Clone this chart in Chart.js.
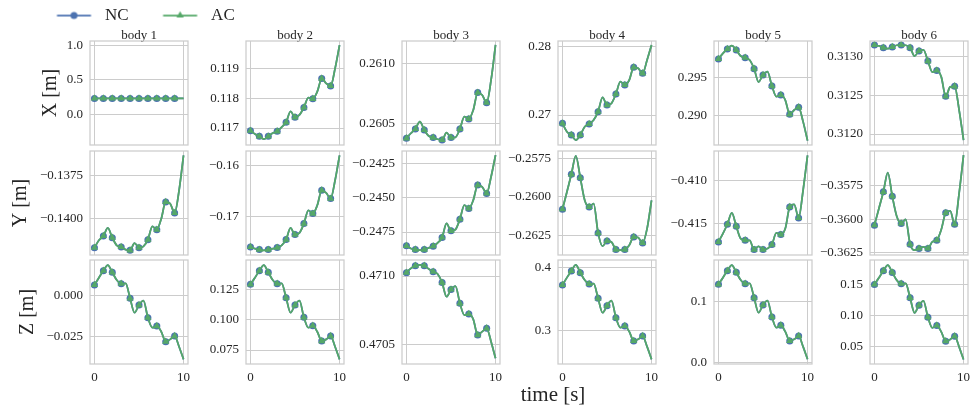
<!DOCTYPE html>
<html>
<head>
<meta charset="utf-8">
<script src="https://cdn.jsdelivr.net/npm/chart.js@4.4.1/dist/chart.umd.min.js"></script>
<style>
  html, body { margin: 0; padding: 0; background: #ffffff; }
  #fig { position: relative; width: 971px; height: 409px; overflow: hidden; }
  #fig canvas { position: absolute; }
</style>
</head>
<body>
<div id="fig"></div>
<script>
// ---- sample times (s) and the instants that carry markers ----
const TIME = [0, 0.5, 1, 1.5, 2, 2.5, 3, 3.5, 4, 4.5, 5, 5.5, 6, 6.5, 7, 7.5, 8, 8.5, 9, 9.5, 10];
const MARK_T = [0, 1, 2, 3, 4, 5, 6, 7, 8, 9];

const BODIES = ['body 1', 'body 2', 'body 3', 'body 4', 'body 5', 'body 6'];
const COORD_NAMES = ['X [m]', 'Y [m]', 'Z [m]'];
const SERIES_NAMES = ['NC', 'AC'];

// ---- X position [m] per body ----
const X_B1 = [0.23, 0.23, 0.23, 0.23, 0.23, 0.23, 0.23, 0.23, 0.23, 0.23, 0.23, 0.23, 0.23, 0.23, 0.23, 0.23, 0.23, 0.23, 0.23, 0.23, 0.23];
const X_B2 = [0.11691, 0.11680, 0.11672, 0.11663, 0.11672, 0.11683, 0.11689, 0.11703, 0.11719, 0.11756, 0.11736, 0.11744, 0.11769, 0.11802, 0.11798, 0.11822, 0.11866, 0.11850, 0.11841, 0.11900, 0.11978];
const X_B3 = [0.260375, 0.260417, 0.260453, 0.260514, 0.260444, 0.260394, 0.260381, 0.260367, 0.260361, 0.260422, 0.260381, 0.260383, 0.260453, 0.260556, 0.260536, 0.260611, 0.260756, 0.260736, 0.260672, 0.260861, 0.261153];
const X_B4 = [0.26878, 0.26756, 0.26707, 0.26634, 0.26707, 0.26829, 0.26868, 0.26927, 0.27049, 0.27259, 0.27146, 0.27171, 0.27307, 0.27488, 0.27439, 0.27512, 0.27698, 0.27683, 0.27610, 0.27805, 0.28024];
const X_B5 = [0.29739, 0.29813, 0.29870, 0.29913, 0.29857, 0.29778, 0.29757, 0.29726, 0.29613, 0.29439, 0.29530, 0.29574, 0.29387, 0.29248, 0.29270, 0.29204, 0.29017, 0.29074, 0.29109, 0.28922, 0.28674];
const X_B6 = [0.313152, 0.313139, 0.313117, 0.313104, 0.313126, 0.313148, 0.313152, 0.313148, 0.313117, 0.313009, 0.313074, 0.313087, 0.312943, 0.312800, 0.312822, 0.312739, 0.312487, 0.312609, 0.312617, 0.312313, 0.311922];

// ---- Y position [m] per body ----
const Y_B1 = [-0.141641, -0.141221, -0.140973, -0.140515, -0.141069, -0.141508, -0.141603, -0.141756, -0.141794, -0.141374, -0.141641, -0.141565, -0.141183, -0.140420, -0.140611, -0.139981, -0.139027, -0.139122, -0.139656, -0.138359, -0.136355];
const Y_B2 = [-0.176013, -0.176340, -0.176536, -0.176667, -0.176536, -0.176340, -0.176144, -0.175686, -0.174575, -0.172288, -0.173595, -0.173268, -0.171438, -0.168824, -0.169477, -0.167843, -0.164902, -0.165425, -0.166536, -0.162941, -0.158039];
const Y_B3 = [-0.248512, -0.248707, -0.248780, -0.248829, -0.248780, -0.248659, -0.248537, -0.248293, -0.247902, -0.246878, -0.247415, -0.247317, -0.246561, -0.245537, -0.245780, -0.245171, -0.244073, -0.244195, -0.244683, -0.243463, -0.241878];
const Y_B4 = [-0.260804, -0.259674, -0.258522, -0.257326, -0.258739, -0.260217, -0.260652, -0.260435, -0.262348, -0.263217, -0.262870, -0.262935, -0.263435, -0.263478, -0.263435, -0.263152, -0.262609, -0.262652, -0.262999, -0.262065, -0.260217];
const Y_B5 = [-0.417148, -0.416172, -0.415078, -0.413750, -0.415313, -0.416758, -0.416953, -0.416953, -0.418047, -0.417656, -0.418047, -0.417930, -0.417461, -0.416094, -0.416289, -0.415586, -0.413047, -0.412734, -0.414336, -0.411094, -0.406992];
const Y_B6 = [-0.360443, -0.359212, -0.357980, -0.356552, -0.358300, -0.359778, -0.360320, -0.360025, -0.361847, -0.362291, -0.362167, -0.362044, -0.362167, -0.361675, -0.361552, -0.360764, -0.359532, -0.359384, -0.360369, -0.358103, -0.355271];

// ---- Z position [m] per body ----
const Z_B1 = [0.00651, 0.01098, 0.01525, 0.01870, 0.01423, 0.00956, 0.00732, 0.00752, -0.00163, -0.01037, -0.00569, -0.00305, -0.01342, -0.01952, -0.01850, -0.02196, -0.02806, -0.02663, -0.02460, -0.03110, -0.03883];
const Z_B2 = [0.12912, 0.13461, 0.14038, 0.14505, 0.13901, 0.13269, 0.12967, 0.12994, 0.11813, 0.10577, 0.11209, 0.11566, 0.10193, 0.09341, 0.09506, 0.09011, 0.08242, 0.08379, 0.08654, 0.07775, 0.06731];
const Z_B3 = [0.471024, 0.471055, 0.471075, 0.471080, 0.471075, 0.471051, 0.471031, 0.471014, 0.470952, 0.470850, 0.470903, 0.470927, 0.470802, 0.470717, 0.470725, 0.470686, 0.470572, 0.470597, 0.470621, 0.470524, 0.470403];
const Z_B4 = [0.37211, 0.38368, 0.39421, 0.40368, 0.39158, 0.38000, 0.37368, 0.37421, 0.35105, 0.32842, 0.33947, 0.34737, 0.32053, 0.30474, 0.30737, 0.29842, 0.28368, 0.28632, 0.29158, 0.27474, 0.25474];
const Z_B5 = [0.12858, 0.13957, 0.15111, 0.16045, 0.14837, 0.13573, 0.12968, 0.13023, 0.10660, 0.08187, 0.09451, 0.10166, 0.07473, 0.05715, 0.06099, 0.05055, 0.03517, 0.03792, 0.04341, 0.02583, 0.00495];
const Z_B6 = [0.14973, 0.16043, 0.17166, 0.18075, 0.16899, 0.15669, 0.15081, 0.15134, 0.12834, 0.10428, 0.11658, 0.12353, 0.09733, 0.08021, 0.08396, 0.07380, 0.05882, 0.06150, 0.06684, 0.04973, 0.02941];

// ---- axis ranges ----
const X_LIMS = [[-0.449, 1.067], [0.11643, 0.11992], [0.260319, 0.261186], [0.26561, 0.28083], [0.28617, 0.29974], [0.311858, 0.313203]];
const Y_LIMS = [[-0.14206, -0.13611], [-0.17759, -0.15720], [-0.24918, -0.24158], [-0.26379, -0.25700], [-0.41868, -0.40649], [-0.36265, -0.35496]];
const Z_LIMS = [[-0.04165, 0.02177], [0.0635, 0.1492], [0.470362, 0.471116], [0.24739, 0.41153], [-0.0028, 0.1687], [0.02228, 0.1889]];

// ---- tick values and labels ----
const TIME_TICKS = [0, 10];
const TIME_TICK_LABELS = ['0', '10'];
const X_TICKS = [[0, 0.5, 1.0], [0.117, 0.118, 0.119], [0.2605, 0.2610], [0.27, 0.28], [0.290, 0.295], [0.3120, 0.3125, 0.3130]];
const X_TICK_LABELS = [['0.0', '0.5', '1.0'], ['0.117', '0.118', '0.119'], ['0.2605', '0.2610'], ['0.27', '0.28'], ['0.290', '0.295'], ['0.3120', '0.3125', '0.3130']];
const Y_TICKS = [[-0.1400, -0.1375], [-0.17, -0.16], [-0.2475, -0.2450, -0.2425], [-0.2625, -0.2600, -0.2575], [-0.415, -0.410], [-0.3625, -0.3600, -0.3575]];
const Y_TICK_LABELS = [['\u22120.1400', '\u22120.1375'], ['\u22120.17', '\u22120.16'], ['\u22120.2475', '\u22120.2450', '\u22120.2425'], ['\u22120.2625', '\u22120.2600', '\u22120.2575'], ['\u22120.415', '\u22120.410'], ['\u22120.3625', '\u22120.3600', '\u22120.3575']];
const Z_TICKS = [[-0.025, 0.000], [0.075, 0.100, 0.125], [0.4705, 0.4710], [0.3, 0.4], [0.0, 0.1], [0.05, 0.10, 0.15]];
const Z_TICK_LABELS = [['\u22120.025', '0.000'], ['0.075', '0.100', '0.125'], ['0.4705', '0.4710'], ['0.3', '0.4'], ['0.0', '0.1'], ['0.05', '0.10', '0.15']];

const ROWS = [
  { name: COORD_NAMES[0], series: [X_B1, X_B2, X_B3, X_B4, X_B5, X_B6], lims: X_LIMS, ticks: X_TICKS, labels: X_TICK_LABELS },
  { name: COORD_NAMES[1], series: [Y_B1, Y_B2, Y_B3, Y_B4, Y_B5, Y_B6], lims: Y_LIMS, ticks: Y_TICKS, labels: Y_TICK_LABELS },
  { name: COORD_NAMES[2], series: [Z_B1, Z_B2, Z_B3, Z_B4, Z_B5, Z_B6], lims: Z_LIMS, ticks: Z_TICKS, labels: Z_TICK_LABELS }
];

// ---- styling and grid layout ----
const BLUE = '#4c72b0';
const GREEN = '#55a868';
const EDGE = '#cccccc';
const TEXT = '#262626';
const FONT = '"Liberation Serif", "DejaVu Serif", serif';
const FRAME_LEFT = [90, 246, 402, 558, 714, 870];
const FRAME_TOP = [41, 151, 260];
const FRAME_W = 98;
const FRAME_H = 104;
const ROW_TITLE_PAD = [36.5, 6.5, 13.5];

Chart.defaults.font.family = FONT;
Chart.defaults.color = TEXT;

const fig = document.getElementById('fig');

// light grey box around every axes
const framePlugin = {
  id: 'axesFrame',
  afterDatasetsDraw(chart) {
    const { ctx, chartArea: a } = chart;
    ctx.save();
    ctx.strokeStyle = EDGE;
    ctx.lineWidth = 1.25;
    ctx.strokeRect(a.left, a.top, a.right - a.left, a.bottom - a.top);
    ctx.restore();
  }
};

function markerRadius(r) {
  return (ctx) => (ctx.raw && MARK_T.includes(ctx.raw.x)) ? r : 0;
}

function seriesStyle(color, style, radius, order) {
  return {
    borderColor: color,
    backgroundColor: color,
    borderWidth: 1.75,
    pointStyle: style,
    pointRadius: markerRadius(radius),
    pointHoverRadius: 0,
    pointBackgroundColor: color,
    pointBorderWidth: 0,
    cubicInterpolationMode: 'monotone',
    fill: false,
    order: order
  };
}

function makePanel(r, c) {
  const row = ROWS[r];
  const padL = c === 0 ? 88 : 70, padT = 20, padR = 12, padB = 24;
  const W = padL + FRAME_W + padR, H = padT + FRAME_H + padB;
  const cv = document.createElement('canvas');
  cv.width = W; cv.height = H;
  cv.style.width = W + 'px'; cv.style.height = H + 'px';
  cv.style.left = (FRAME_LEFT[c] - padL) + 'px';
  cv.style.top = (FRAME_TOP[r] - padT) + 'px';
  fig.appendChild(cv);

  const values = row.series[c];
  const pts = TIME.map((t, i) => ({ x: t, y: values[i] }));
  const yTicks = row.ticks[c];
  const yLabels = row.labels[c];

  new Chart(cv, {
    type: 'line',
    data: {
      datasets: [
        Object.assign({ label: SERIES_NAMES[0], data: pts }, seriesStyle(BLUE, 'circle', 3.5, 1)),
        Object.assign({ label: SERIES_NAMES[1], data: pts }, seriesStyle(GREEN, 'triangle', 4.2, 0))
      ]
    },
    options: {
      responsive: false,
      animation: false,
      events: [],
      layout: { padding: { left: 0, right: padR, top: r === 0 ? 0 : padT, bottom: 0 } },
      plugins: {
        legend: { display: false },
        tooltip: { enabled: false },
        title: {
          display: r === 0,
          text: BODIES[c],
          fullSize: false,
          color: TEXT,
          font: { size: 13, weight: 'normal', lineHeight: 0.8 },
          padding: { top: 9.6, bottom: 0 }
        }
      },
      scales: {
        x: {
          type: 'linear',
          min: -0.5,
          max: 10.5,
          afterBuildTicks: (s) => { s.ticks = TIME_TICKS.map(v => ({ value: v })); },
          afterFit: (s) => { s.height = padB; },
          ticks: {
            display: r === 2,
            autoSkip: false,
            maxRotation: 0,
            padding: 6,
            color: TEXT,
            font: { size: 13 },
            callback: (v, i) => TIME_TICK_LABELS[i]
          },
          grid: { color: EDGE, lineWidth: 1, drawTicks: false },
          border: { display: false }
        },
        y: {
          type: 'linear',
          min: row.lims[c][0],
          max: row.lims[c][1],
          afterBuildTicks: (s) => { s.ticks = yTicks.map(v => ({ value: v })); },
          afterFit: (s) => { s.width = padL; },
          ticks: {
            autoSkip: false,
            padding: 7,
            color: TEXT,
            font: { size: 13 },
            callback: (v, i) => yLabels[i]
          },
          grid: { color: EDGE, lineWidth: 1, drawTicks: false },
          border: { display: false },
          title: {
            display: c === 0,
            text: row.name,
            color: TEXT,
            font: { size: 20 },
            padding: { top: ROW_TITLE_PAD[r], bottom: 0 }
          }
        }
      }
    },
    plugins: [framePlugin]
  });
}

// legend glyph: short line with the series marker in its middle
function legendGlyph(color, style, radius) {
  const g = document.createElement('canvas');
  g.width = 67; g.height = 14;
  const ctx = g.getContext('2d');
  ctx.strokeStyle = color;
  ctx.lineWidth = 1.75;
  ctx.beginPath();
  ctx.moveTo(27.5, 7);
  ctx.lineTo(61.5, 7);
  ctx.stroke();
  ctx.fillStyle = color;
  if (Chart.helpers && Chart.helpers.drawPoint) {
    Chart.helpers.drawPoint(ctx, { pointStyle: style, radius: radius, borderWidth: 0, rotation: 0 }, 44.5, 7);
  } else {
    ctx.beginPath();
    ctx.arc(44.5, 7, radius, 0, Math.PI * 2);
    ctx.fill();
  }
  return g;
}

// figure-level legend and shared time label
function makeFigureLayer() {
  const cv = document.createElement('canvas');
  cv.width = 971; cv.height = 409;
  cv.style.width = '971px'; cv.style.height = '409px';
  cv.style.left = '0px'; cv.style.top = '0px';
  fig.appendChild(cv);
  const glyphs = [legendGlyph(BLUE, 'circle', 3.5), legendGlyph(GREEN, 'triangle', 4.2)];
  new Chart(cv, {
    type: 'line',
    data: {
      datasets: [
        Object.assign({ label: SERIES_NAMES[0], data: [] }, seriesStyle(BLUE, 'circle', 3.5, 1)),
        Object.assign({ label: SERIES_NAMES[1], data: [] }, seriesStyle(GREEN, 'triangle', 4.2, 0))
      ]
    },
    options: {
      responsive: false,
      animation: false,
      events: [],
      layout: { padding: { left: 22.5, top: 0, right: 0, bottom: 0 } },
      plugins: {
        tooltip: { enabled: false },
        legend: {
          display: true,
          position: 'top',
          align: 'start',
          labels: {
            usePointStyle: true,
            pointStyleWidth: 67,
            padding: 7,
            color: TEXT,
            font: { size: 17 },
            generateLabels: (chart) => {
              const items = Chart.defaults.plugins.legend.labels.generateLabels(chart);
              items.sort((a, b) => a.datasetIndex - b.datasetIndex);
              items.forEach(it => { it.pointStyle = glyphs[it.datasetIndex]; it.fontColor = TEXT; it.lineWidth = 0; });
              return items;
            }
          }
        }
      },
      scales: {
        x: {
          type: 'linear',
          min: 0, max: 1,
          ticks: { display: false },
          grid: { display: false },
          border: { display: false },
          title: { display: true, text: 'time [s]', color: TEXT, font: { size: 21 }, padding: { top: 0, bottom: 1 } }
        },
        y: {
          display: true,
          ticks: { display: false },
          grid: { display: false },
          border: { display: false },
          afterFit: (s) => { s.width = 112.5; }
        }
      }
    }
  });
}

makeFigureLayer();
for (let r = 0; r < 3; r++) {
  for (let c = 0; c < 6; c++) makePanel(r, c);
}
</script>
</body>
</html>
